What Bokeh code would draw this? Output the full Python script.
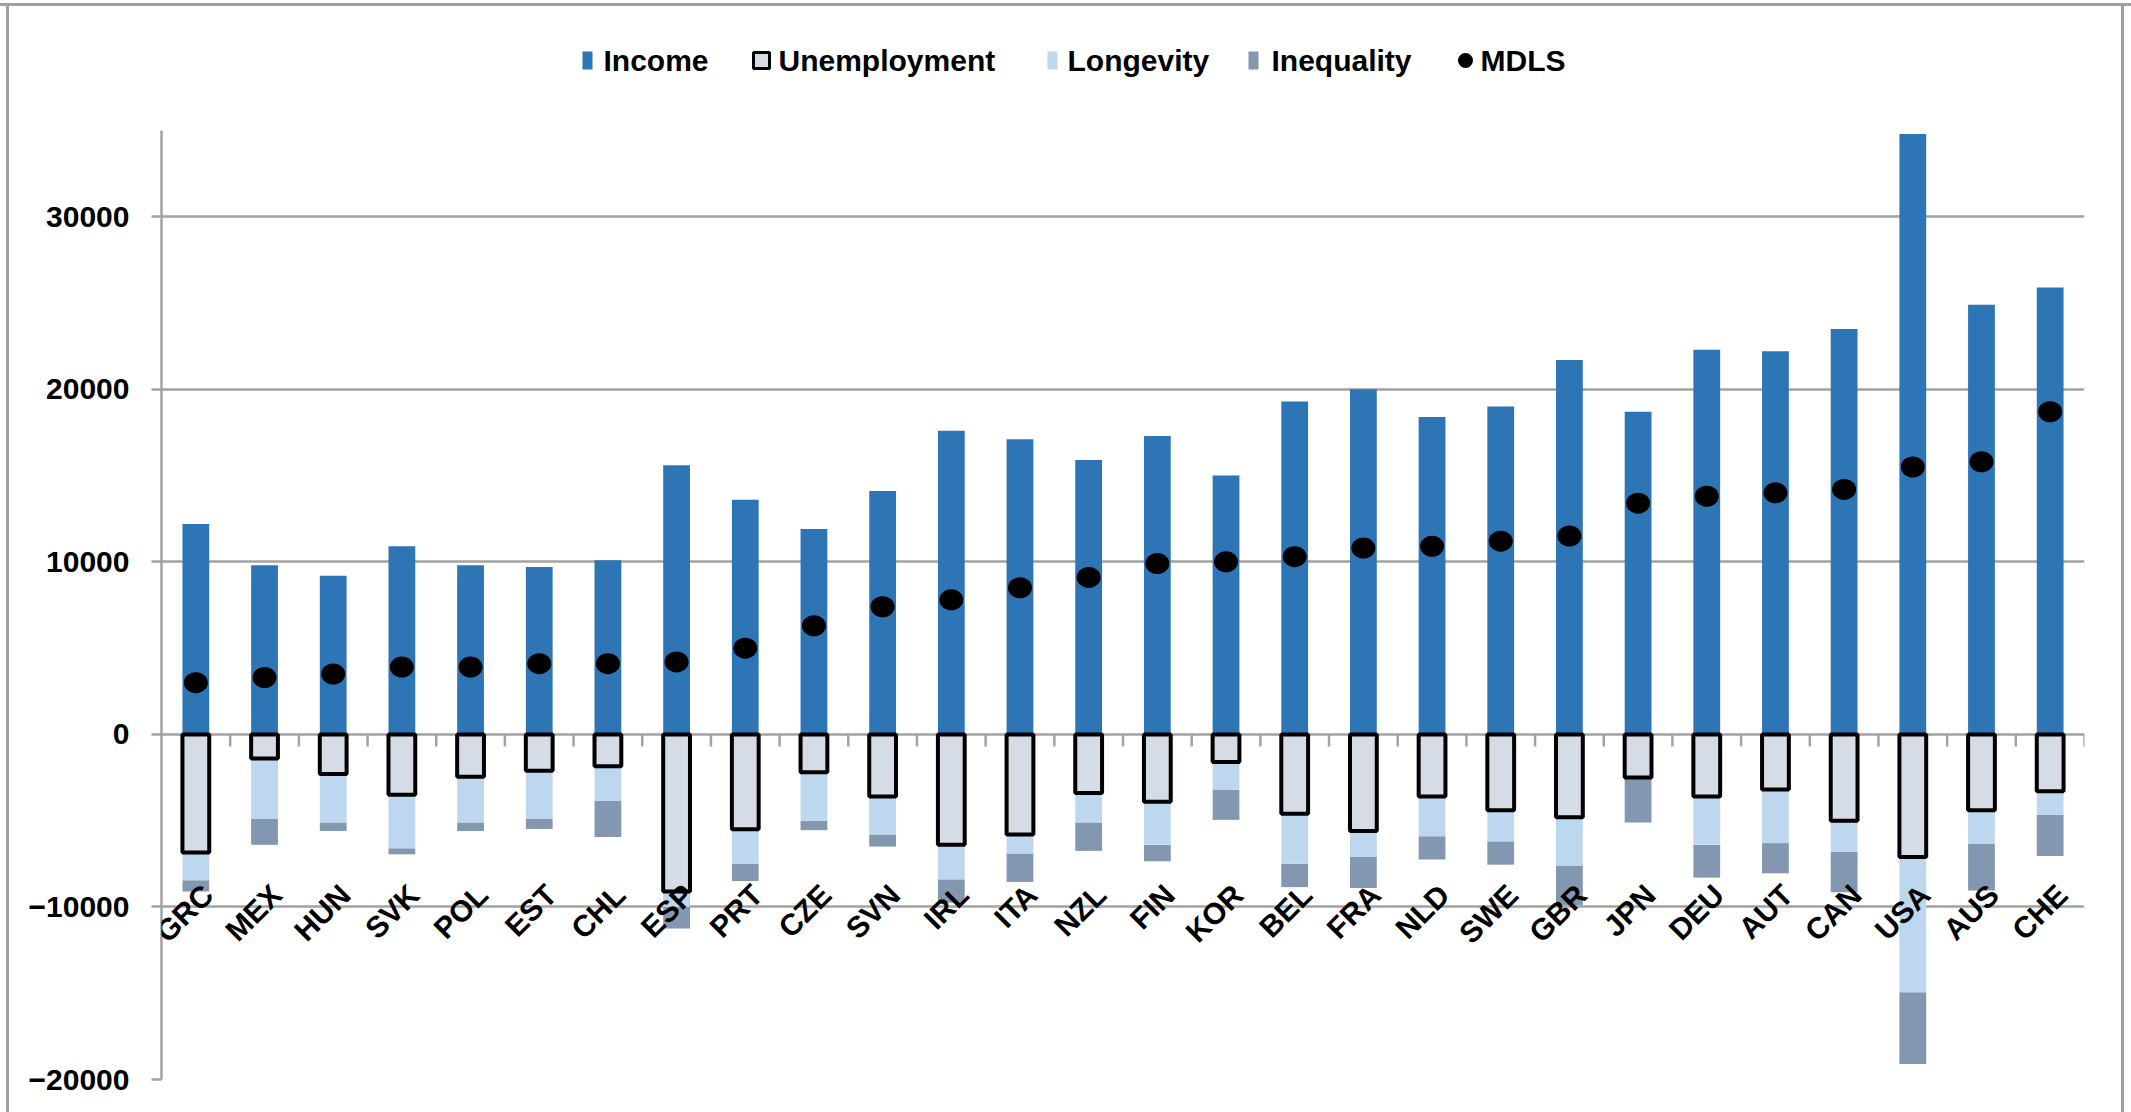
import math
from bokeh.plotting import figure
from bokeh.models import ColumnDataSource, FactorRange, Range1d, FixedTicker, Label
from bokeh.core.properties import value
from bokeh.embed import file_html
from bokeh.resources import INLINE

# Well-being components by country (USD-equivalent contributions)
countries = ["GRC", "MEX", "HUN", "SVK", "POL", "EST", "CHL", "ESP", "PRT", "CZE",
             "SVN", "IRL", "ITA", "NZL", "FIN", "KOR", "BEL", "FRA", "NLD", "SWE",
             "GBR", "JPN", "DEU", "AUT", "CAN", "USA", "AUS", "CHE"]
income = [12200, 9800, 9200, 10900, 9800, 9700, 10100, 15600, 13600, 11900,
          14100, 17600, 17100, 15900, 17300, 15000, 19300, 20000, 18400, 19000,
          21700, 18700, 22300, 22200, 23500, 34800, 24900, 25900]
unemployment = [6850, 1400, 2300, 3500, 2450, 2100, 1850, 9100, 5500, 2200,
                3600, 6400, 5800, 3400, 3900, 1600, 4600, 5600, 3600, 4400,
                4800, 2500, 3600, 3200, 5000, 7100, 4400, 3300]
longevity = [1600, 3500, 2800, 3100, 2650, 2800, 2000, 900, 2000, 2800,
             2200, 2000, 1100, 1700, 2500, 1600, 2900, 1500, 2300, 1800,
             2800, 0, 2800, 3100, 1800, 7850, 1950, 1350]
inequality = [650, 1500, 500, 350, 500, 580, 2100, 1250, 1000, 550,
              700, 1350, 1650, 1650, 950, 1750, 1350, 1800, 1350, 1350,
              2300, 2600, 1900, 1750, 2350, 4150, 2700, 2400]
mdls = [3000, 3300, 3500, 3900, 3900, 4100, 4100, 4200, 5000, 6300,
        7400, 7800, 8500, 9100, 9900, 10000, 10300, 10800, 10900, 11200,
        11500, 13400, 13800, 14000, 14200, 15500, 15800, 18700]
y_ticks = [-20000, -10000, 0, 10000, 20000, 30000]
legend_labels = ["Income", "Unemployment", "Longevity", "Inequality", "MDLS"]

C_INCOME = "#2e75b6"
C_UNEMP = "#d6dce5"
C_LONG = "#bdd7ee"
C_INEQ = "#8497b0"
C_GRID = "#a3a3a3"
FONT = value("Liberation Sans")

# losses are stacked downward from zero
u_bot = [-u for u in unemployment]
l_bot = [b - l for b, l in zip(u_bot, longevity)]
i_bot = [b - i for b, i in zip(l_bot, inequality)]

src = ColumnDataSource(dict(
    c=countries, income=income, zero=[0] * len(countries),
    u_bot=u_bot, l_bot=l_bot, i_bot=i_bot, mdls=mdls,
))

W, H = 2131, 1112
L, R, B = 161, 47, 33
AX_TOP = 130            # canvas row where the value axis begins
Y_MIN, Y_MAX = -20000, 35000
n = len(countries)

# the frame reaches the top of the canvas so the legend can live above the axis
per_px = (Y_MAX - Y_MIN) / (H - B - AX_TOP)
y_top = Y_MAX + AX_TOP * per_px


def fx(px):
    """Canvas x pixel -> categorical synthetic coordinate."""
    return (px - L) * n / (W - R - L)


def fy(py):
    """Canvas y pixel (downward) -> data value."""
    return y_top - py * per_px


p = figure(width=W, height=H, x_range=FactorRange(*countries),
           y_range=Range1d(Y_MIN, y_top), output_backend="svg",
           toolbar_location=None, min_border_left=L, min_border_right=R,
           min_border_top=0, min_border_bottom=B)
p.background_fill_color = None
p.border_fill_color = None
p.outline_line_color = None
# thin grey frame around the chart area (top, left and right edges)
p.styles = {
    "background-color": "white",
    "box-shadow": ("inset 0 3px 0 0 #ffffff, inset 0 6px 0 0 #a0a0a0, "
                   "inset 6px 0 0 0 #ffffff, inset 9px 0 0 0 #a0a0a0, "
                   "inset -7px 0 0 0 #ffffff, inset -10px 0 0 0 #a0a0a0"),
}

p.xaxis.visible = False
p.xgrid.visible = False
p.ygrid.ticker = FixedTicker(ticks=y_ticks)
p.ygrid.grid_line_color = C_GRID
p.ygrid.grid_line_width = 2.5

ya = p.yaxis[0]
ya.ticker = FixedTicker(ticks=y_ticks)
ya.bounds = (Y_MIN, Y_MAX)
ya.axis_line_color = C_GRID
ya.axis_line_width = 2.5
ya.major_tick_line_color = C_GRID
ya.major_tick_line_width = 2.5
ya.major_tick_out = 10
ya.major_tick_in = 0
ya.minor_tick_line_color = None
ya.major_label_standoff = 22
ya.major_label_text_font = "Liberation Sans"
ya.major_label_text_font_style = "bold"
ya.major_label_text_font_size = "30px"
ya.major_label_text_color = "black"

W_BAR = 0.39
p.vbar(x="c", bottom="zero", top="income", width=W_BAR, source=src,
       fill_color=C_INCOME, line_color=None)
p.vbar(x="c", bottom="i_bot", top="l_bot", width=W_BAR, source=src,
       fill_color=C_INEQ, line_color=None)
p.vbar(x="c", bottom="l_bot", top="u_bot", width=W_BAR, source=src,
       fill_color=C_LONG, line_color=None)
p.vbar(x="c", bottom="u_bot", top="zero", width=W_BAR, source=src,
       fill_color=C_UNEMP, line_color="black", line_width=4)

# category tick marks below the zero line
p.segment(x0=list(range(1, n + 1)), x1=list(range(1, n + 1)),
          y0=[0] * n, y1=[-700] * n, line_color=C_GRID, line_width=2.5)

p.ellipse(x="c", y="mdls", width=24, height=21, width_units="screen",
          height_units="screen", source=src, fill_color="black", line_color=None)

# rotated country labels near the zero line
for i, name in enumerate(countries):
    p.add_layout(Label(x=i + 0.5, y=-9000, text=name, angle=45,
                       angle_units="deg", text_align="right",
                       text_baseline="middle", x_offset=12,
                       text_font="Liberation Sans", text_font_style="bold",
                       text_font_size="30px", text_color="black"))

# legend row
LY = 60
sw_x0 = [582, 753, 1047, 1248]
sw_x1 = [592, 769, 1057, 1258]
sw_top = [51, 52, 51, 51]
sw_bot = [69, 68, 69, 69]
p.quad(left=[fx(v) for v in sw_x0], right=[fx(v) for v in sw_x1],
       top=[fy(v) for v in sw_top], bottom=[fy(v) for v in sw_bot],
       fill_color=[C_INCOME, C_UNEMP, C_LONG, C_INEQ],
       line_color=[None, "black", None, None], line_width=3)
p.ellipse(x=[fx(1465)], y=[fy(LY)], width=15, height=15, width_units="screen",
          height_units="screen", fill_color="black", line_color=None)
p.text(x=[fx(v) for v in [603, 778, 1067, 1271, 1480]], y=[fy(LY)] * 5,
       text=legend_labels, text_align="left", text_baseline="middle",
       text_font=FONT, text_font_style="bold", text_font_size="30px",
       text_color="black")

open("out.html", "w").write(file_html(p, INLINE))
